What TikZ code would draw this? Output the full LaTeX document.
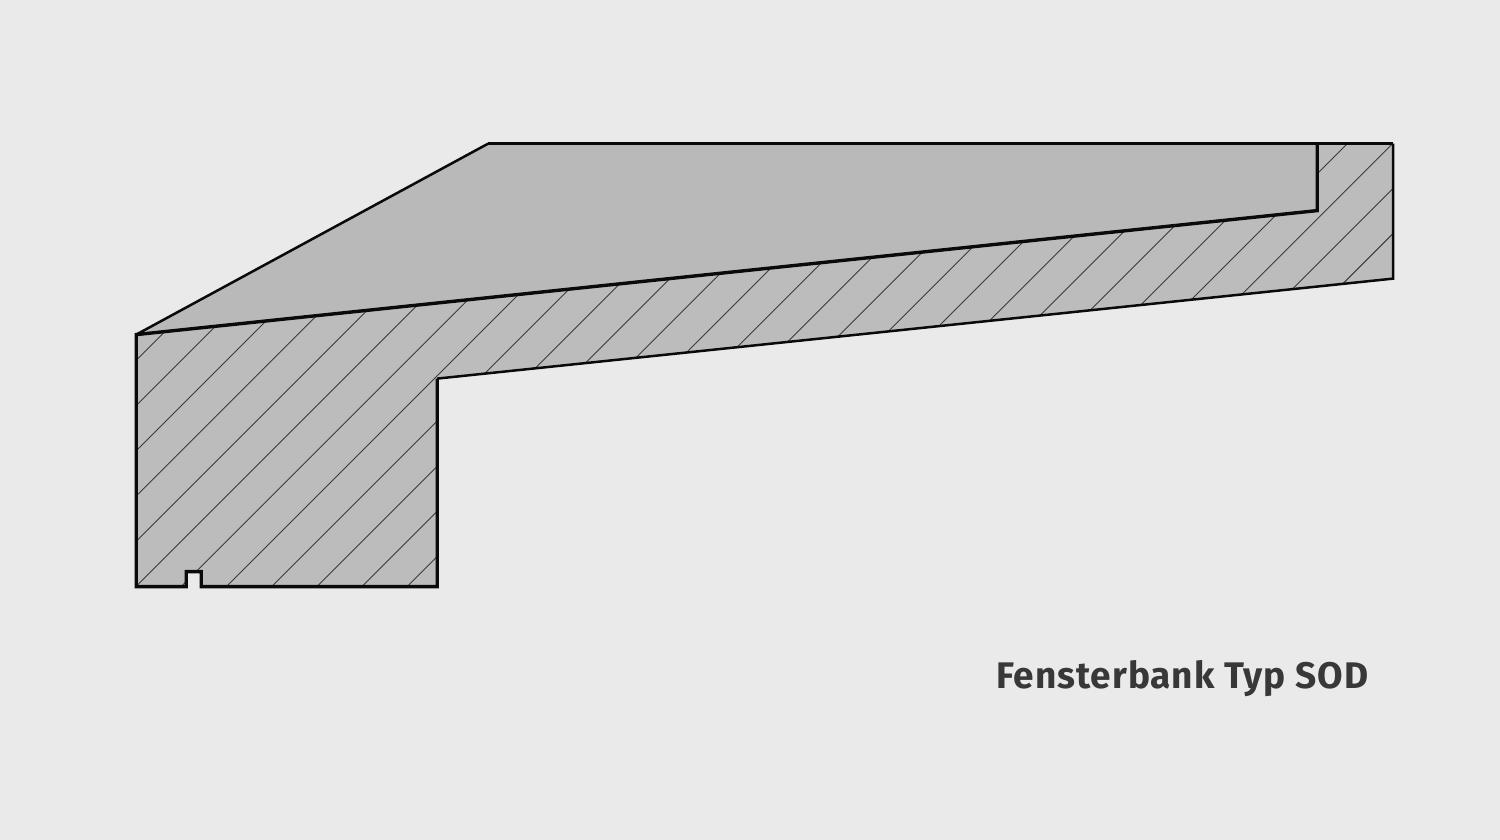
\documentclass[tikz,border=0pt]{standalone}
\usepackage{fontspec}
\setmainfont{Fira Sans}[BoldFont={Fira Sans Bold},BoldFeatures={LetterSpace=2.55}]
\definecolor{bgc}{HTML}{EAEAEA}
\definecolor{topc}{HTML}{B9B9B9}
\definecolor{secc}{HTML}{BCBCBC}
\definecolor{inkc}{HTML}{0A0A0A}
\definecolor{hatchc}{HTML}{3A3A3A}
\definecolor{textc}{HTML}{383838}
\tikzset{
  outline/.style={draw=inkc,line width=3.4pt,line join=miter},
  thinout/.style={draw=inkc,line width=2.5pt,line join=miter},
  hatchline/.style={draw=hatchc,line width=0.9pt},
  titletext/.style={anchor=base west,inner sep=0pt,text=textc,font=\fontsize{37}{37}\selectfont\bfseries}
}
\begin{document}
\begin{tikzpicture}[x=1pt,y=-1pt]
\useasboundingbox (0,0) rectangle (1500,840);
\fill[bgc] (0,0) rectangle (1500,840);
\begin{scope}[shift={(0.2,0.6)}]
% upper sloped face
\fill[topc] (136,334) -- (488,143) -- (1317,143) -- (1317,210) -- cycle;
% cut section
\fill[secc] (136,334) -- (1317,210) -- (1317,143) -- (1393,143) -- (1393,278) -- (437,378) -- (437,586) -- (201,586) -- (201,571) -- (186,571) -- (186,586) -- (136,586) -- cycle;
\begin{scope}
\clip (136,334) -- (1317,210) -- (1317,143) -- (1393,143) -- (1393,278) -- (437,378) -- (437,586) -- (201,586) -- (201,571) -- (186,571) -- (186,586) -- (136,586) -- cycle;
\foreach \k in {-1,...,25} {
  \pgfmathsetmacro{\c}{541+45.2*\k}
  \draw[hatchline] (100,{\c-100}) -- (1450,{\c-1450});
}
\end{scope}
% outlines
\draw[thinout] (136,334) -- (488,143);
\draw[outline] (488,143) -- (1393,143);
\draw[thinout] (1393,143) -- (1393,278) -- (437,378);
\draw[outline] (437,378) -- (437,586) -- (201,586) -- (201,571) -- (186,571) -- (186,586) -- (136,586) -- (136,334) -- (1317,210) -- (1317,143);
\end{scope}
\node[titletext] (title) at (996,688) {Fensterbank Typ SOD};
\end{tikzpicture}
\end{document}
